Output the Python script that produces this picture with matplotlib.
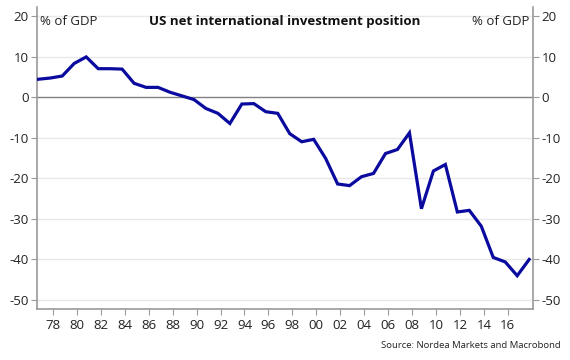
import matplotlib
matplotlib.use("Agg")
import matplotlib.pyplot as plt
import numpy as np

years = list(range(1976, 2018))
niip = [4.4, 4.7, 5.2, 8.3, 9.9, 7.0, 7.0, 6.9, 3.4, 2.4,
        2.4, 1.2, 0.3, -0.6, -2.8, -4.0, -6.5, -1.7, -1.6, -3.6,
        -4.0, -9.0, -11.0, -10.4, -15.1, -21.4, -21.8, -19.6, -18.8, -13.9,
        -12.9, -8.8, -27.5, -18.2, -16.6, -28.3, -27.9, -31.8, -39.5, -40.6,
        -44.0, -40.0]
tick_years = list(range(1978, 2017, 2))
tick_labels = [f"{y % 100:02d}" for y in tick_years]
y_ticks = [20, 10, 0, -10, -20, -30, -40, -50]

plt.rcParams['font.family'] = ['Open Sans', 'DejaVu Sans']

fig = plt.figure(figsize=(5.7, 3.6), dpi=100)
ax = fig.add_axes([37/570, 1-309/360, (533-37)/570, (309-7)/360])

x = np.array(years) + 0.78
ax.plot(x, niip, color='#0a0a9e', lw=2.3, solid_joinstyle='miter', zorder=3)

ax.set_xlim(1976.67, 2018.1)
ax.set_ylim(-52.2, 22.2)
ax.set_xticks(tick_years)
ax.set_xticklabels(tick_labels)
ax.set_yticks(y_ticks)
ax.set_yticklabels([str(v) for v in y_ticks])

for v in y_ticks:
    if v != 0:
        ax.axhline(v, color='#e8e8e8', lw=1, zorder=1)
ax.axhline(0, color='#808080', lw=1, zorder=2)

for s in ['left', 'right', 'bottom']:
    ax.spines[s].set_color('#9a9a9a')
    ax.spines[s].set_linewidth(1.2)
ax.spines['top'].set_visible(False)

ax.tick_params(axis='y', which='both', left=True, right=True, labelleft=True,
               labelright=True, length=4, color='#9a9a9a', labelsize=9.5,
               labelcolor='#222222', pad=2)
ax.tick_params(axis='x', length=4, color='#9a9a9a', labelsize=9.5,
               labelcolor='#222222', pad=3)

ax.text(0.006, 0.952, '% of GDP', transform=ax.transAxes, ha='left', va='center',
        fontsize=9.5, color='#222222')
ax.text(0.992, 0.952, '% of GDP', transform=ax.transAxes, ha='right', va='center',
        fontsize=9.5, color='#222222')
ax.text(0.5, 0.952, 'US net international investment position', transform=ax.transAxes,
        ha='center', va='center', fontsize=9.5, fontweight='bold', color='#111111')

fig.text(561/570, 1-345/360, 'Source: Nordea Markets and Macrobond', ha='right',
         va='center', fontsize=6.8, color='#222222')

fig.savefig('out.png', dpi=100)
